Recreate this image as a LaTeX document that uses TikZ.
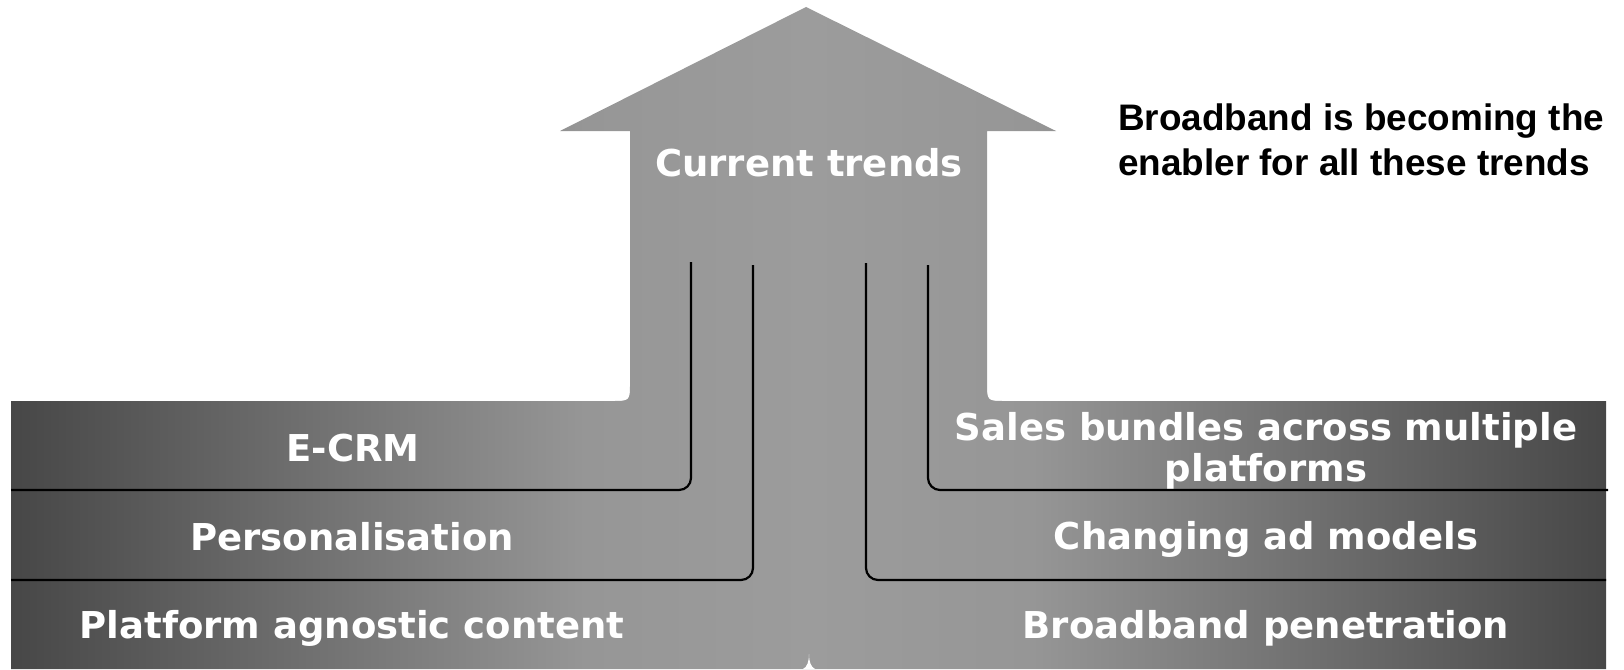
\documentclass[tikz,border=0pt]{standalone}
\usepackage{fontspec}
\newfontfamily\labfont{DejaVu Sans}
\newfontfamily\notefont{Liberation Sans}
\definecolor{edgegray}{HTML}{474747}
\definecolor{midgray}{HTML}{969696}
\definecolor{topgray}{HTML}{9C9C9C}
\pgfdeclarehorizontalshading{bandshade}{100bp}{color(0bp)=(edgegray); color(25bp)=(edgegray); color(43bp)=(midgray); color(50bp)=(topgray); color(57bp)=(midgray); color(75bp)=(edgegray); color(100bp)=(edgegray)}
\begin{document}
\begin{tikzpicture}[x=1pt,y=-1pt,
  lab/.style={text=white, font=\labfont\bfseries\fontsize{37}{41}\selectfont, inner sep=0pt, anchor=base},
  note/.style={text=black, font=\notefont\bfseries\fontsize{36.9}{45}\selectfont, inner sep=0pt, anchor=base west},
  rule/.style={draw=black, line width=2.2pt, rounded corners=12pt}]
\useasboundingbox (0,0) rectangle (1624,669);
% combined arrow and band
\shade[shading=bandshade] (11,669) -- (11,401) -- (612,401) .. controls (630,401) .. (630,383) -- (630,131) -- (560,131) -- (806,7) -- (1056,131) -- (987,131) -- (987,383) .. controls (987,401) .. (1005,401) -- (1606,401) -- (1606,669) -- cycle;
% small white notch at bottom
\fill[white] (803,669) .. controls (807,667) and (809,662) .. (809,654) .. controls (809,662) and (811,667) .. (815,669) -- cycle;
% rules
\coordinate (a1) at (11,490);  \coordinate (a2) at (691,490);  \coordinate (a3) at (691,262);
\coordinate (b1) at (11,580);  \coordinate (b2) at (753,580);  \coordinate (b3) at (753,265);
\coordinate (c1) at (866,263); \coordinate (c2) at (866,580);  \coordinate (c3) at (1606,580);
\coordinate (d1) at (928,265); \coordinate (d2) at (928,490);  \coordinate (d3) at (1608,490);
\draw[rule] (a1) -- (a2) -- (a3);
\draw[rule] (b1) -- (b2) -- (b3);
\draw[rule] (c1) -- (c2) -- (c3);
\draw[rule] (d1) -- (d2) -- (d3);
% labels
\node[lab] (ct) at (809,176) {Current trends};
\node[lab] (ecrm) at (353,461) {E-CRM};
\node[lab] (pers) at (352,550) {Personalisation};
\node[lab] (plat) at (352,638) {Platform agnostic content};
\node[lab] (sales) at (1266,440) {\parbox[t]{700pt}{\centering Sales bundles across multiple\\platforms}};
\node[lab] (adm) at (1266,549) {Changing ad models};
\node[lab] (bbp) at (1266,638) {Broadband penetration};
\node[note] (note) at (1118,130) {\parbox[t]{600pt}{\raggedright Broadband is becoming the\\enabler for all these trends}};
\end{tikzpicture}
\end{document}
